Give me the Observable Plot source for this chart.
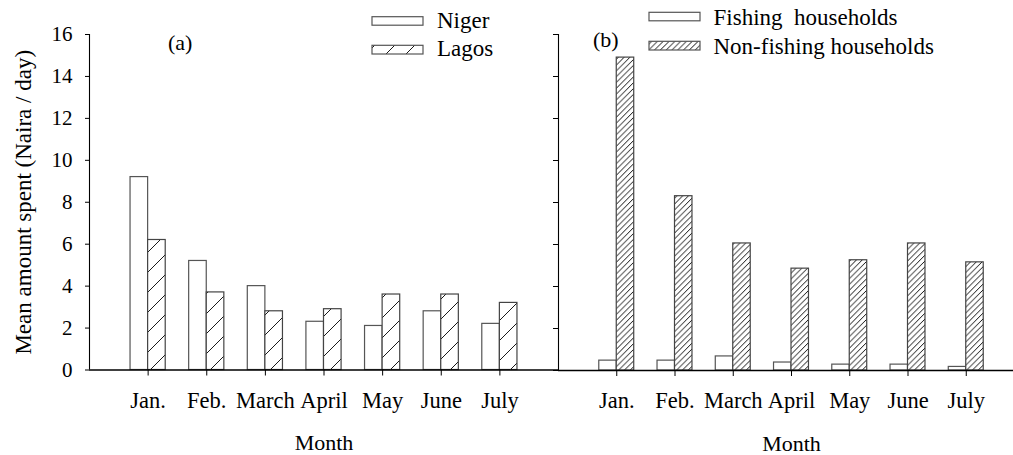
<!DOCTYPE html>
<html><head><meta charset="utf-8">
<script src="https://cdn.jsdelivr.net/npm/d3@7"></script>
<script src="https://cdn.jsdelivr.net/npm/@observablehq/plot@0.6"></script>
<style>
html,body{margin:0;padding:0;background:#fff;overflow:hidden;width:1013px;height:455px}
#wrap{position:relative;width:1013px;height:455px;overflow:hidden;background:#fff}
#wrap svg{position:absolute;top:0}
#wrap svg text{font-family:'Liberation Serif','Times New Roman',serif}
</style></head><body><div id="wrap"></div>
<script>
// ---- data ----
const months = ["Jan.", "Feb.", "March", "April", "May", "June", "July"];
const niger = [9.2, 5.2, 4.0, 2.3, 2.1, 2.8, 2.2];
const lagos = [6.2, 3.7, 2.8, 2.9, 3.6, 3.6, 3.2];
const fishing = [0.47, 0.47, 0.67, 0.38, 0.28, 0.28, 0.17];
const nonFishing = [14.9, 8.3, 6.05, 4.85, 5.25, 6.05, 5.15];
const yTicks = [0, 2, 4, 6, 8, 10, 12, 14, 16];
const seriesLeft = ["Niger", "Lagos"];
const seriesRight = ["Fishing  households", "Non-fishing households"];
const panelLabels = ["(a)", "(b)"];
const xTitle = "Month";
const yTitle = "Mean amount spent (Naira / day)";

const FONT = "'Liberation Serif', 'Times New Roman', serif";
const wrap = document.getElementById("wrap");

function panel({left, marginLeft, plotWidth, marginBottom, a, b, fillA, fillB, showLabels}) {
  const rows = months.map((m, i) => ({i: i + 1, month: m, a: a[i], b: b[i]}));
  const half = 0.3;
  const marks = [
    Plot.rectY(rows, {x1: d => d.i - half, x2: d => d.i, y: "a", fill: fillA, stroke: "#555", strokeWidth: 1.2}),
    Plot.rectY(rows, {x1: d => d.i, x2: d => d.i + half, y: "b", fill: fillB, stroke: "#444", strokeWidth: 1.2}),
    Plot.ruleY([0], {stroke: "#000", strokeWidth: 1.6}),
    Plot.ruleX([0], {stroke: "#000", strokeWidth: 1.1}),
    Plot.axisY({ticks: yTicks, tickSize: showLabels ? 4 : 5, tickPadding: 13, fontSize: 21, fontFamily: FONT,
      tickFormat: showLabels ? (d => d) : (() => ""), label: null}),
    Plot.axisX({ticks: rows.map(d => d.i), tickSize: 6, tickPadding: 16, fontSize: 22.5, fontFamily: FONT,
      tickFormat: i => months[i - 1], label: null}),
    Plot.text([xTitle], {frameAnchor: "bottom", dy: 73, fontSize: 22, fontFamily: FONT, lineAnchor: "middle", textAnchor: "middle"})
  ];
  if (showLabels) {
    marks.push(Plot.text([yTitle], {frameAnchor: "left", rotate: -90, dx: -66, fontSize: 23, fontFamily: FONT,
      lineAnchor: "middle", textAnchor: "middle"}));
  }
  const svg = Plot.plot({
    width: marginLeft + plotWidth, height: 455,
    marginLeft, marginRight: 0, marginTop: 34, marginBottom,
    style: {fontFamily: FONT, background: "transparent", color: "#000", overflow: "visible"},
    x: {type: "linear", domain: [0, 8], axis: null},
    y: {domain: [0, 16], axis: null},
    marks
  });
  svg.style.left = left + "px";
  wrap.appendChild(svg);
  return svg;
}

const svgL = panel({left: 0, marginLeft: 89, plotWidth: 469, marginBottom: 85.5,
  a: niger, b: lagos, fillA: "#fff", fillB: "url(#hatchSparse)", showLabels: true});
const svgR = panel({left: 548, marginLeft: 10, plotWidth: 466, marginBottom: 85,
  a: fishing, b: nonFishing, fillA: "#fff", fillB: "url(#hatchDense)", showLabels: false});

// patterns
const defs = d3.select(svgL).insert("defs", ":first-child");
const p1 = defs.append("pattern").attr("id", "hatchSparse").attr("patternUnits", "userSpaceOnUse")
  .attr("width", 20).attr("height", 20);
p1.append("rect").attr("width", 20).attr("height", 20).attr("fill", "#fff");
p1.append("path").attr("d", "M0,20L20,0M-5,5L5,-5M15,25L25,15").attr("stroke", "#000").attr("stroke-width", 0.9);
const P = 5.8;
const p2 = defs.append("pattern").attr("id", "hatchDense").attr("patternUnits", "userSpaceOnUse")
  .attr("width", P).attr("height", P);
p2.append("rect").attr("width", P).attr("height", P).attr("fill", "#fff");
p2.append("path").attr("d", `M0,${P}L${P},0M-1,1L1,-1M${P-1},${P+1}L${P+1},${P-1}`).attr("stroke", "#000").attr("stroke-width", 0.95);

// legends & panel labels
function legend(svg, {x, tx, items, fills, ys, hs, bases, label, lx, ly}) {
  const g = d3.select(svg).append("g").attr("font-family", FONT).attr("fill", "#000").attr("text-anchor", "start");
  items.forEach((t, k) => {
    g.append("rect").attr("x", x).attr("y", ys[k]).attr("width", 51).attr("height", hs[k])
      .attr("fill", fills[k]).attr("stroke", "#555").attr("stroke-width", 1.2);
    g.append("text").attr("x", tx).attr("y", bases[k]).attr("font-size", 23).attr("text-anchor", "start")
      .style("white-space", "pre").attr("fill", "#000").text(t);
  });
  g.append("text").attr("x", lx).attr("y", ly).attr("font-size", 22).attr("text-anchor", "start")
    .attr("fill", "#000").text(label);
}
legend(svgL, {x: 372, tx: 437, items: seriesLeft, fills: ["#fff", "url(#hatchSparse)"],
  ys: [16.7, 45.3], hs: [8.5, 8.7], bases: [27.7, 55.7], label: panelLabels[0], lx: 168, ly: 50});
legend(svgR, {x: 101, tx: 165.5, items: seriesRight, fills: ["#fff", "url(#hatchDense)"],
  ys: [12.3, 41.3], hs: [8.5, 8.7], bases: [25, 54], label: panelLabels[1], lx: 45, ly: 47});
</script></body></html>
